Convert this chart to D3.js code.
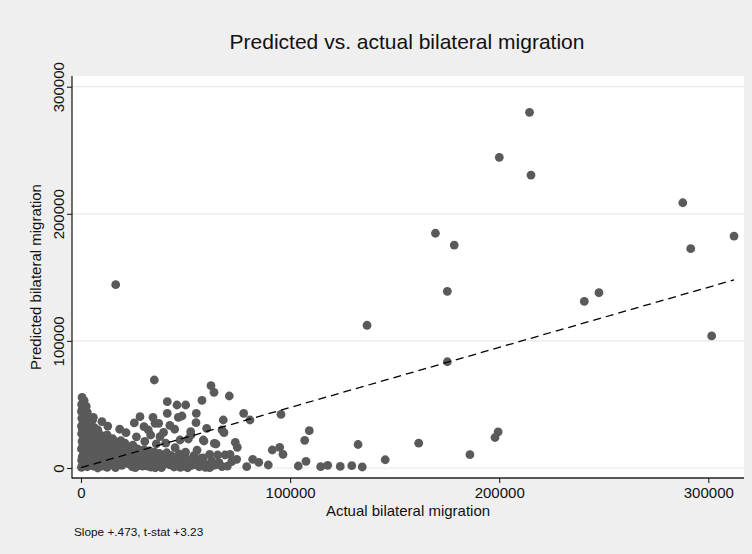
<!DOCTYPE html>
<html>
<head>
<meta charset="utf-8">
<script src="https://cdn.jsdelivr.net/npm/d3@7"></script>
<style>
  html, body { margin: 0; padding: 0; background: #efefef; }
  svg { display: block; font-family: "Liberation Sans", Arial, Helvetica, sans-serif; }
</style>
</head>
<body>
<svg id="chart" width="752" height="554"></svg>
<script>
// ---- data ----
const chartTitle = "Predicted vs. actual bilateral migration";
const xTitle = "Actual bilateral migration";
const yTitle = "Predicted bilateral migration";
const footnote = "Slope +.473, t-stat +3.23";
const xTicks = [0, 100000, 200000, 300000];
const yTicks = [0, 100000, 200000, 300000];
const fitSlope = 0.473;
const fitIntercept = 300;

// [actual, predicted] — large outliers
const outlierPoints = [
  [214500, 279800], [200050, 244400], [215200, 230500], [287800, 208700],
  [169500, 184700], [178500, 175400], [312300, 182500], [291600, 172600],
  [175200, 139000], [240700, 131100], [247700, 137900], [136800, 112300],
  [301600, 103900], [175200, 83600], [16600, 144200]
];

// [actual, predicted] — mid-range scatter
const midPoints = [
  [35060, 69240], [62170, 64760], [63600, 59560], [41270, 52170], [45910, 49570],
  [50070, 49570], [57860, 53260], [5900, 39890], [28210, 40360], [34430, 39890],
  [41270, 43040], [46530, 39890], [55140, 43040], [35390, 35170], [37150, 35170],
  [30130, 32500], [32190, 29900], [55000, 35650], [60100, 31230], [52460, 28560],
  [21520, 27780], [33330, 25960], [37780, 24630], [58490, 22030], [63740, 19430],
  [70920, 56650], [48300, 40910], [77800, 43040], [80820, 37770], [68050, 37770],
  [67430, 29900], [68380, 27780], [52600, 25960], [51310, 22820], [47340, 22030],
  [58820, 21240], [64560, 18880], [73790, 20220], [74750, 16290], [109170, 29350],
  [106970, 21790], [91480, 14160], [95020, 16290], [96600, 10780], [61540, 10780],
  [65370, 10230], [68860, 10230], [71250, 10780], [72060, 4960], [74450, 6850],
  [82100, 6850], [89570, 2360], [79240, 1020], [62020, 1020], [67430, 1020],
  [103910, 1570], [107600, 5270], [114620, 1020], [117970, 2120], [95640, 42250],
  [48920, 6290], [50550, 6290], [53700, 6290], [55330, 2360],
  [132500, 18500], [134500, 800], [129500, 1800], [145500, 6500], [161500, 19500],
  [186000, 10500], [198000, 24000], [199500, 28500], [124000, 1200],
  [42500, 33500], [44800, 30500], [39500, 28000], [26500, 24500], [40500, 19500],
  [45000, 16000], [36000, 19000], [30500, 21000], [55500, 14000], [50000, 12500],
  [58500, 8000], [62500, 5500], [66000, 4200], [70000, 1500], [85000, 4500],
  [25500, 35500], [18500, 30500], [12800, 33000], [10000, 36500]
];

// [actual, predicted] — dense cluster near the origin
const clusterPoints = [
  [500, 55500], [1500, 53000], [300, 50000], [800, 47000], [200, 44500], [1200, 42000],
  [400, 39000], [1000, 36000], [200, 33000], [700, 30000], [300, 27000], [1200, 24000],
  [500, 21000], [900, 18000], [200, 15000], [1400, 12000], [600, 9000], [300, 6000],
  [1000, 3000], [200, 500],
  [3500, 40500], [3000, 37000], [4500, 34000], [2500, 31000], [5000, 28000],
  [3000, 25000], [4000, 22000], [2500, 19000], [5500, 16000], [3000, 13000], [4500, 10000],
  [2500, 7000], [5000, 4000], [3000, 1000], [3000, 44000], [2500, 48500],
  [5500, 37500], [6500, 31500], [8500, 27500], [6000, 23500], [6500, 18500],
  [6000, 11500], [5500, 7500], [6000, 1500],
  [8000, 30000], [7000, 26000], [9500, 23000], [7500, 20000], [9000, 17000], [7000, 14000],
  [9500, 11000], [8000, 8000], [7000, 5000], [9000, 2000], [8000, 0],
  [10200, 1500], [10500, 7000], [10000, 13000], [10300, 19000], [10500, 25000], [12500, 26000],
  [11500, 22500], [13000, 19500], [11000, 16500], [14000, 14000], [12000, 11000],
  [13500, 8000], [11000, 5000], [14000, 2500], [12500, 500], [16000, 21000],
  [15000, 6000], [15300, 12000], [14800, 17500], [15200, 23000],
  [17500, 18000], [16000, 15500], [18500, 12500], [16500, 10000], [19000, 7000],
  [17000, 4500], [19500, 2000], [16500, 300],
  [20000, 4500], [20300, 10500], [19800, 16000],
  [21000, 19500], [23000, 16500], [21500, 13500], [24000, 11000], [22000, 8500],
  [25000, 6000], [22500, 3500], [24500, 1000], [27000, 15000], [29000, 12500],
  [25500, 3000], [25200, 12500], [24800, 18000],
  [26500, 9500], [28500, 7000], [27000, 4000], [29500, 1500], [26000, 300],
  [30500, 4000], [30000, 9500], [30200, 14500],
  [31000, 12000], [33000, 9500], [31500, 6500], [34000, 4000], [32000, 1500],
  [35000, 2500], [34500, 7500], [35200, 12500],
  [36000, 10000], [38000, 7000], [36500, 4500], [39000, 2000], [35500, 200], [40000, 9000],
  [40500, 3500], [41000, 12000], [43000, 10000], [46500, 2000], [46000, 9000],
  [41500, 5500], [42500, 2500], [44000, 7500], [45500, 4000], [44500, 800],
  [48000, 6000], [49500, 3000], [47500, 500], [51500, 5500], [53000, 2000], [51000, 200],
  [50000, 8500], [52500, 4000], [54500, 7000], [57000, 5500], [60500, 2500],
  [55000, 4000], [56500, 1000], [58000, 3000], [59500, 500],
  [23000, 7000], [27800, 11000], [32800, 13500], [37500, 11500], [33500, 700],
  [38500, 300], [42000, 7000], [47000, 11000], [39000, 5500], [28000, 2000],
  [18000, 9000], [12500, 15000], [7500, 9500], [4000, 14000], [19000, 21500],
  [54000, 9800], [57500, 7800], [61500, 300], [64000, 2200], [49000, 1500]
];

// ---- layout ----
const svg = d3.select("#chart");
const W = 752, H = 554;
const plot = { left: 72, right: 744, top: 76, bottom: 478 };

svg.append("rect").attr("width", W).attr("height", H).attr("fill", "#efefef");
svg.append("rect")
  .attr("x", plot.left).attr("y", plot.top)
  .attr("width", plot.right - plot.left).attr("height", plot.bottom - plot.top)
  .attr("fill", "#ffffff");

const x = d3.scaleLinear().domain([0, 300000]).range([81, 708.3]);
const y = d3.scaleLinear().domain([0, 300000]).range([468, 86.7]);

// gridlines
svg.append("g").selectAll("line").data(yTicks).join("line")
  .attr("x1", plot.left).attr("x2", plot.right)
  .attr("y1", d => y(d)).attr("y2", d => y(d))
  .attr("stroke", "#e8e8e8").attr("stroke-width", 1.2);

// points
const allPoints = clusterPoints.concat(midPoints, outlierPoints);
svg.append("g").selectAll("circle").data(allPoints).join("circle")
  .attr("cx", d => x(d[0])).attr("cy", d => y(d[1]))
  .attr("r", 4.4).attr("fill", "#5a5a5a");

// fitted line
const xMax = d3.max(allPoints, d => d[0]);
svg.append("line")
  .attr("x1", x(0)).attr("y1", y(fitIntercept))
  .attr("x2", x(xMax)).attr("y2", y(fitIntercept + fitSlope * xMax))
  .attr("stroke", "#000").attr("stroke-width", 1.3)
  .attr("stroke-dasharray", "8,5");

// axes
const yAxis = d3.axisLeft(y).tickValues(yTicks).tickSize(5).tickSizeOuter(0).tickFormat(d3.format("d"));
const gy = svg.append("g").attr("transform", `translate(${plot.left},0)`).call(yAxis);
gy.select(".domain").remove();
gy.selectAll(".tick line").attr("stroke", "#222").attr("stroke-width", 1.1);
gy.selectAll(".tick text")
  .attr("font-size", 15).attr("fill", "#111")
  .attr("x", null).attr("dy", null)
  .attr("text-anchor", "middle")
  .attr("transform", "translate(-8,0) rotate(-90)");

const xAxis = d3.axisBottom(x).tickValues(xTicks).tickSize(5).tickSizeOuter(0).tickFormat(d3.format("d"));
const gx = svg.append("g").attr("transform", `translate(0,${plot.bottom})`).call(xAxis);
gx.select(".domain").remove();
gx.selectAll(".tick line").attr("stroke", "#222").attr("stroke-width", 1.1);
gx.selectAll(".tick text")
  .attr("font-size", 15).attr("fill", "#111")
  .attr("y", 20).attr("dy", null);

svg.append("line").attr("x1", plot.left).attr("x2", plot.left)
  .attr("y1", plot.top).attr("y2", plot.bottom + 0.5)
  .attr("stroke", "#222").attr("stroke-width", 1.3);
svg.append("line").attr("x1", plot.left).attr("x2", plot.right)
  .attr("y1", plot.bottom).attr("y2", plot.bottom)
  .attr("stroke", "#222").attr("stroke-width", 1.3);

// titles
svg.append("text").attr("x", 407).attr("y", 49).attr("text-anchor", "middle")
  .attr("font-size", 21).attr("fill", "#111").text(chartTitle);
svg.append("text").attr("x", 408).attr("y", 516).attr("text-anchor", "middle")
  .attr("font-size", 15).attr("fill", "#111").text(xTitle);
svg.append("text").attr("transform", `translate(41,${(plot.top + plot.bottom) / 2}) rotate(-90)`)
  .attr("text-anchor", "middle").attr("font-size", 15).attr("fill", "#111").text(yTitle);
svg.append("text").attr("x", 74).attr("y", 536)
  .attr("font-size", 11.8).attr("fill", "#111").text(footnote);
</script>
</body>
</html>
